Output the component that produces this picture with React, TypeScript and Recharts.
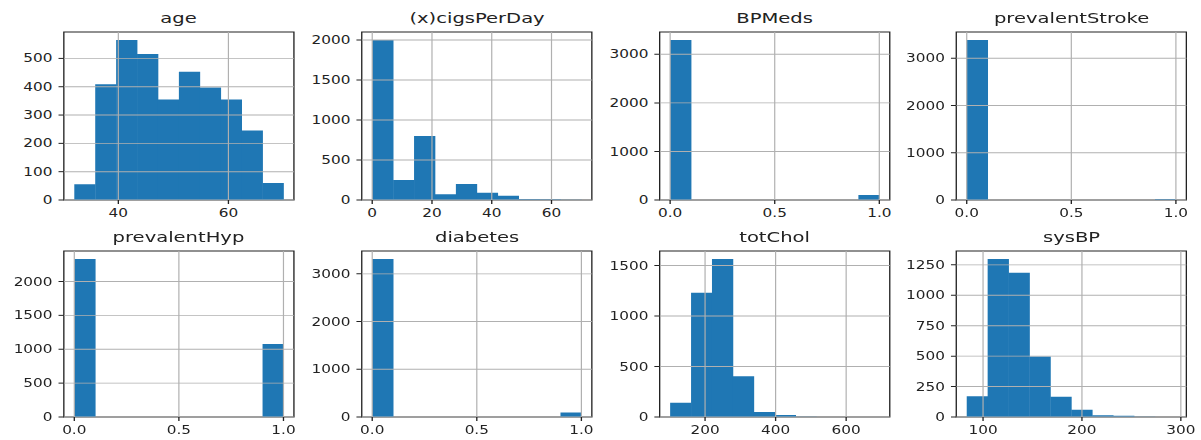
import React from "react";
import { BarChart, Bar, XAxis, YAxis, ReferenceLine, ReferenceArea } from "recharts";

// bin counts (10 bins each)
const AGE_COUNTS = [56, 409, 565, 516, 355, 453, 397, 355, 245, 60];
const AGE_RANGE = [32, 70];
const AGE_XTICKS = [40, 60];
const AGE_YTICKS = [0, 100, 200, 300, 400, 500];

const CIGS_COUNTS = [2000, 250, 800, 71, 200, 92, 54, 12, 10, 2];
const CIGS_RANGE = [0, 70];
const CIGS_XTICKS = [0, 20, 40, 60];
const CIGS_YTICKS = [0, 500, 1000, 1500, 2000];

const BPMEDS_COUNTS = [3295, 0, 0, 0, 0, 0, 0, 0, 0, 103];
const STROKE_COUNTS = [3388, 0, 0, 0, 0, 0, 0, 0, 0, 22];
const HYP_COUNTS = [2333, 0, 0, 0, 0, 0, 0, 0, 0, 1078];
const DIAB_COUNTS = [3313, 0, 0, 0, 0, 0, 0, 0, 0, 92];
const BINARY_RANGE = [0, 1];
const BINARY_XTICKS = [0, 0.5, 1];
const K3_YTICKS = [0, 1000, 2000, 3000];
const HYP_YTICKS = [0, 500, 1000, 1500, 2000];

const CHOL_COUNTS = [141, 1231, 1565, 403, 49, 20, 2, 0, 0, 1];
const CHOL_RANGE = [101, 694];
const CHOL_XTICKS = [200, 400, 600];
const CHOL_YTICKS = [0, 500, 1000, 1500];

const SBP_COUNTS = [171, 1299, 1185, 497, 166, 60, 14, 11, 2, 1];
const SBP_RANGE = [83.5, 295];
const SBP_XTICKS = [100, 200, 300];
const SBP_YTICKS = [0, 250, 500, 750, 1000, 1250];

// the reference is stretched sideways, so lay out narrow and scale x
const STRETCH = 1.33;
const PLOT_W = 173;
const Y_W = 45;
const M_TOP = 5;
const M_RIGHT = 15;
const X_H = 25;
const COL_LEFT = [47.7, 272.2, 495.9, 719.2];
const FONT = "DejaVu Sans";

interface HistProps {
  title: string;
  counts: number[];
  range: number[];
  xTicks: number[];
  yTicks: number[];
  decimals?: number;
  col: number;
  plotTop: number;
  plotH: number;
}

function Hist({ title, counts, range, xTicks, yTicks, decimals = 0, col, plotTop, plotH }: HistProps) {
  const [lo, hi] = range;
  const span = hi - lo;
  const xDomain = [lo - 0.05 * span, hi + 0.05 * span];
  const step = span / counts.length;
  const data = counts.map((count, i) => ({ bin: i, mid: lo + step * (i + 0.5), count }));
  const yMax = Math.max(...counts) * 1.05;
  const pad = (PLOT_W * 0.05) / 1.1;
  const tick = { fontSize: 11.5, fill: "#222", fontFamily: FONT };

  return (
    <div style={{ position: "absolute", left: COL_LEFT[col] - Y_W, top: plotTop - M_TOP }}>
      <div
        style={{
          position: "absolute", left: Y_W, width: PLOT_W, top: -18.5,
          textAlign: "center", fontFamily: FONT, fontSize: 14.7, color: "#222",
          lineHeight: "17px", whiteSpace: "nowrap",
        }}
      >
        {title}
      </div>
      <BarChart
        width={Y_W + PLOT_W + M_RIGHT}
        height={M_TOP + plotH + X_H}
        data={data}
        margin={{ top: M_TOP, right: M_RIGHT, left: 0, bottom: 0 }}
        barCategoryGap={0}
        barGap={0}
      >
        <XAxis xAxisId="c" dataKey="bin" type="category" hide height={0} padding={{ left: pad, right: pad }} />
        <XAxis
          xAxisId="n" dataKey="mid" type="number" domain={xDomain} allowDataOverflow
          ticks={xTicks} interval={0} height={X_H} axisLine={false}
          tickLine={{ stroke: "#222" }} tickSize={4} tickMargin={4.5} tick={tick}
          tickFormatter={(v: number) => v.toFixed(decimals)}
        />
        <YAxis
          yAxisId="y" type="number" domain={[0, yMax]} allowDataOverflow
          ticks={yTicks} interval={0} width={Y_W} axisLine={false}
          tickLine={{ stroke: "#222" }} tickSize={4} tickMargin={4.5} tick={tick}
        />
        <Bar xAxisId="c" yAxisId="y" dataKey="count" fill="#1f77b4" isAnimationActive={false} />
        {xTicks.map((t) => (
          <ReferenceLine key={"x" + t} xAxisId="n" yAxisId="y" x={t} stroke="#b0b0b0" strokeWidth={0.9} />
        ))}
        {yTicks.map((t) => (
          <ReferenceLine key={"y" + t} xAxisId="n" yAxisId="y" y={t} stroke="#b0b0b0" strokeWidth={0.9} />
        ))}
        <ReferenceArea
          xAxisId="n" yAxisId="y" x1={xDomain[0]} x2={xDomain[1]} y1={0} y2={yMax}
          fill="none" fillOpacity={0} stroke="#222" strokeWidth={1} ifOverflow="visible"
        />
      </BarChart>
    </div>
  );
}

export default function App() {
  const r1 = { plotTop: 32, plotH: 168 };
  const r2 = { plotTop: 251, plotH: 166 };
  return (
    <div
      style={{
        position: "absolute", left: 0, top: 0, width: 1201 / STRETCH, height: 440,
        background: "#fff", transform: `scaleX(${STRETCH})`, transformOrigin: "0 0",
      }}
    >
      <Hist title="age" counts={AGE_COUNTS} range={AGE_RANGE} xTicks={AGE_XTICKS} yTicks={AGE_YTICKS} col={0} {...r1} />
      <Hist title="(x)cigsPerDay" counts={CIGS_COUNTS} range={CIGS_RANGE} xTicks={CIGS_XTICKS} yTicks={CIGS_YTICKS} col={1} {...r1} />
      <Hist title="BPMeds" counts={BPMEDS_COUNTS} range={BINARY_RANGE} xTicks={BINARY_XTICKS} yTicks={K3_YTICKS} decimals={1} col={2} {...r1} />
      <Hist title="prevalentStroke" counts={STROKE_COUNTS} range={BINARY_RANGE} xTicks={BINARY_XTICKS} yTicks={K3_YTICKS} decimals={1} col={3} {...r1} />
      <Hist title="prevalentHyp" counts={HYP_COUNTS} range={BINARY_RANGE} xTicks={BINARY_XTICKS} yTicks={HYP_YTICKS} decimals={1} col={0} {...r2} />
      <Hist title="diabetes" counts={DIAB_COUNTS} range={BINARY_RANGE} xTicks={BINARY_XTICKS} yTicks={K3_YTICKS} decimals={1} col={1} {...r2} />
      <Hist title="totChol" counts={CHOL_COUNTS} range={CHOL_RANGE} xTicks={CHOL_XTICKS} yTicks={CHOL_YTICKS} col={2} {...r2} />
      <Hist title="sysBP" counts={SBP_COUNTS} range={SBP_RANGE} xTicks={SBP_XTICKS} yTicks={SBP_YTICKS} col={3} {...r2} />
    </div>
  );
}
